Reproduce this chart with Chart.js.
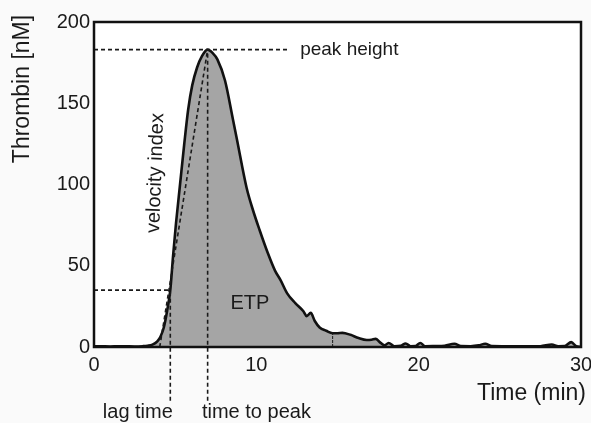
<!DOCTYPE html>
<html lang="en">

<head>
    <meta charset="UTF-8">
    <title>Thrombin generation</title>
    <script src="https://cdn.jsdelivr.net/npm/chart.js"></script>
    <style>
        html, body { margin: 0; padding: 0; background: #fafafa; }
        #wrap { width: 591px; height: 423px; }
    </style>
</head>

<body>
    <div id="wrap"><canvas id="tg-chart"></canvas></div>

    <script>
        // thrombin curve
        var timeMin = [0, 0.5, 1, 1.5, 2, 2.5, 3, 3.3, 3.6, 3.9, 4.1, 4.3, 4.5, 4.7, 4.87, 5.05, 5.3, 5.55, 5.8, 6.05,
            6.35, 6.65, 7.0, 7.3, 7.6, 8.07, 8.56, 8.8, 9.4, 9.8, 10.2, 10.7, 11.15, 11.5, 11.9, 12.4, 12.9, 13.1, 13.35,
            13.6, 13.9, 14.3, 14.7, 15.0, 15.3, 15.8, 16.3, 16.8, 17.1, 17.35, 17.6, 17.9, 18.15, 18.5, 18.9, 19.2, 19.5, 19.8, 20.1,
            20.4, 21, 21.6, 22.2, 22.6, 23.2, 23.7, 24.1, 24.5, 25.5, 26.5, 27.5, 28.2, 28.6, 29.0, 29.4, 29.7, 30];
        var thrombinNM = [0.5, 0.4, 0.3, 0.5, 0.4, 0.3, 0.5, 0.8, 1.5, 3.5, 6.5, 12, 22, 35, 56, 76, 100, 124, 146, 161,
            172, 179, 183, 181, 177, 164, 140, 128, 98, 84, 72, 58, 47, 41, 33, 27, 22, 19, 21,
            16, 12, 10, 8.5, 8.5, 8.7, 7.5, 5.5, 4.3, 4.5, 5, 3, 1, 2.5, 0.5, 0.8, 2.2, 0.5, 0.6, 2.5,
            0.5, 0.6, 0.8, 2, 0.6, 0.5, 1, 2, 0.6, 0.5, 0.4, 0.5, 1.5, 0.5, 0.6, 3, 0.5, 0];

        // tick labels
        var xTicks = [0, 10, 20, 30];
        var yTicks = [0, 50, 100, 150, 200];

        // parameters marked on the curve
        var lagTime = 4.7;
        var lagLevel = 35;
        var peakTime = 7.0;
        var peakHeight = 183;
        var velocityStart = 4.05;
        var etpEnd = 14.7;
        var etpEndLevel = 8.5;
        var peakLineEnd = 11.9;
        var belowAxis = -33;

        // text labels, in data units
        var notes = [
            { text: 'peak height', x: 12.7, y: 183, align: 'left', rot: 0, size: 19 },
            { text: 'lag time', x: 2.7, y: -40, align: 'center', rot: 0, size: 20 },
            { text: 'time to peak', x: 6.65, y: -40, align: 'left', rot: 0, size: 20 },
            { text: 'ETP', x: 9.6, y: 27, align: 'center', rot: 0, size: 20 },
            { text: 'velocity index', x: 3.8, y: 107, align: 'center', rot: -88, size: 20 }
        ];

        var FONT = '"Liberation Sans", Arial, sans-serif';

        var curve = timeMin.map(function (t, i) { return { x: t, y: thrombinNM[i] }; });

        function dashed(points, width, dash) {
            return {
                data: points,
                borderColor: '#1a1a1a',
                borderWidth: width || 1.6,
                borderDash: dash || [4, 3],
                pointRadius: 0,
                fill: false,
                clip: false,
                tension: 0,
                order: 0
            };
        }

        var frame = {
            id: 'frame',
            beforeDraw: function (chart) {
                var c = chart.ctx, a = chart.chartArea;
                c.save();
                c.fillStyle = '#fafafa';
                c.fillRect(0, 0, chart.width, chart.height);
                c.fillStyle = '#ffffff';
                c.fillRect(a.left, a.top, a.right - a.left, a.bottom - a.top);
                c.restore();
            },
            afterDraw: function (chart) {
                var c = chart.ctx, a = chart.chartArea;
                var xs = chart.scales.x, ys = chart.scales.y;
                c.save();
                c.strokeStyle = '#111';
                c.lineWidth = 2.5;
                c.strokeRect(a.left, a.top, a.right - a.left, a.bottom - a.top);

                c.fillStyle = '#1a1a1a';
                c.textBaseline = 'middle';
                notes.forEach(function (n) {
                    c.save();
                    c.font = n.size + 'px ' + FONT;
                    c.textAlign = n.align;
                    c.translate(xs.getPixelForValue(n.x), ys.getPixelForValue(n.y));
                    c.rotate(n.rot * Math.PI / 180);
                    c.fillText(n.text, 0, 0);
                    c.restore();
                });

                // axis titles
                c.font = '23px ' + FONT;
                c.textAlign = 'right';
                c.fillText('Time (min)', chart.width - 5, a.bottom + 47);
                c.save();
                c.translate(23, a.top + 67);
                c.rotate(-Math.PI / 2);
                c.textAlign = 'center';
                c.fillText('Thrombin [nM]', 0, 0);
                c.restore();
                c.restore();
            }
        };

        var ctx = document.getElementById('tg-chart').getContext('2d');
        var chart = new Chart(ctx, {
            type: 'line',
            data: {
                datasets: [
                    {
                        data: curve,
                        borderColor: '#111',
                        borderWidth: 2.6,
                        backgroundColor: '#a5a5a5',
                        fill: 'origin',
                        pointRadius: 0,
                        cubicInterpolationMode: 'monotone',
                        order: 1
                    },
                    dashed([{ x: 0, y: peakHeight }, { x: peakLineEnd, y: peakHeight }]),
                    dashed([{ x: 0, y: lagLevel }, { x: lagTime, y: lagLevel }]),
                    dashed([{ x: lagTime, y: belowAxis }, { x: lagTime, y: lagLevel }]),
                    dashed([{ x: peakTime, y: belowAxis }, { x: peakTime, y: peakHeight }]),
                    dashed([{ x: velocityStart, y: 0 }, { x: peakTime, y: peakHeight }]),
                    dashed([{ x: etpEnd, y: 0 }, { x: etpEnd, y: etpEndLevel }], 1, [3, 1])
                ]
            },
            options: {
                responsive: true,
                maintainAspectRatio: false,
                animation: false,
                events: [],
                layout: { padding: { top: 22, right: 10, left: 0, bottom: 0 } },
                plugins: {
                    legend: { display: false },
                    tooltip: { enabled: false }
                },
                scales: {
                    x: {
                        type: 'linear',
                        min: 0,
                        max: 30,
                        afterBuildTicks: function (s) { s.ticks = xTicks.map(function (v) { return { value: v }; }); },
                        afterFit: function (s) { s.height = 76; s.paddingLeft = 0; s.paddingRight = 0; },
                        grid: { display: false, drawTicks: false },
                        border: { display: false },
                        ticks: {
                            color: '#1a1a1a',
                            padding: 6,
                            maxRotation: 0,
                            font: { family: FONT, size: 20 }
                        }
                    },
                    y: {
                        min: 0,
                        max: 200,
                        afterBuildTicks: function (s) { s.ticks = yTicks.map(function (v) { return { value: v }; }); },
                        afterFit: function (s) { s.width = 94; s.paddingTop = 0; s.paddingBottom = 0; },
                        grid: { display: false, drawTicks: false },
                        border: { display: false },
                        ticks: {
                            color: '#1a1a1a',
                            padding: 4,
                            font: { family: FONT, size: 20 }
                        }
                    }
                }
            },
            plugins: [frame]
        });
    </script>
</body>

</html>
